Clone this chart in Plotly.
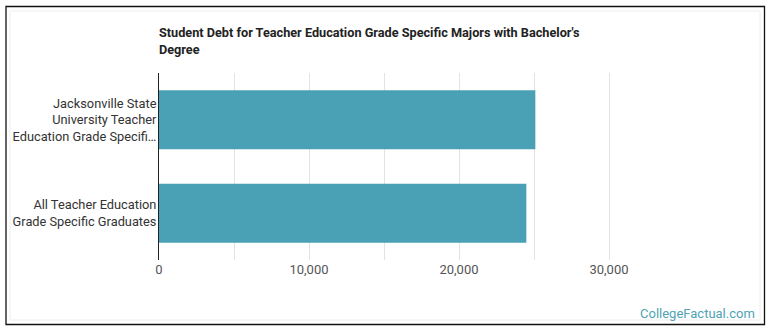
import plotly.graph_objects as go

categories = [
    "Jacksonville State<br>University Teacher<br>Education Grade Specifi…",
    "All Teacher Education<br>Grade Specific Graduates",
]
values = [25090, 24490]
tick_vals = [0, 5000, 10000, 15000, 20000, 25000, 30000]
tick_text = ["0", "", "10,000", "", "20,000", "", "30,000"]

W, H = 770, 335
ml, mr, mt, mb = 159, 101, 73, 75
pw, ph = W - ml - mr, H - mt - mb

def px(x):
    return (x - ml) / pw

def py(y):
    return 1 - (y - mt) / ph

fig = go.Figure()
fig.add_trace(go.Bar(
    x=values, y=categories, orientation="h",
    marker=dict(color="#4aa0b4", line=dict(width=0)),
    hoverinfo="x+y",
))

fig.update_layout(
    width=W, height=H,
    margin=dict(l=ml, r=mr, t=mt, b=mb, autoexpand=False),
    paper_bgcolor="white", plot_bgcolor="white",
    bargap=0.37,
    showlegend=False,
    font=dict(family="Roboto", color="#333333"),
    xaxis=dict(
        range=[0, 34000],
        tickvals=tick_vals,
        ticktext=tick_text,
        showgrid=True, gridcolor="#e3e3e3", gridwidth=1,
        zeroline=False, showline=False,
        tickfont=dict(size=13, color="#555555"),
        ticks="", automargin=False,
    ),
    yaxis=dict(
        autorange="reversed",
        showline=True, linecolor="#222222", linewidth=1,
        showgrid=False, zeroline=False,
        tickfont=dict(size=12.8, color="#333333"),
        ticks="", automargin=False,
        ticklabelstandoff=-1,
    ),
    annotations=[
        dict(text="<b>Student Debt for Teacher Education Grade Specific Majors with Bachelor's<br>Degree</b>",
             xref="paper", yref="paper", x=px(158), y=py(24), xanchor="left", yanchor="top",
             align="left", showarrow=False, borderpad=0,
             font=dict(family="Roboto", size=12.7, color="#222222")),
        dict(text="CollegeFactual.com", xref="paper", yref="paper",
             x=px(757), y=py(313), xanchor="right", yanchor="middle",
             showarrow=False, font=dict(family="Roboto", size=13, color="#4fa3b3")),
    ],
    shapes=[
        dict(type="rect", xref="paper", yref="paper",
             x0=px(6), x1=px(764.5), y0=py(6.5), y1=py(324.5),
             line=dict(color="#111111", width=1.3), layer="below"),
        dict(type="rect", xref="paper", yref="paper",
             x0=px(10), x1=px(760), y0=py(11), y1=py(320),
             line=dict(color="#eeeeee", width=1), layer="below"),
    ],
)

fig.write_html("out.html")
